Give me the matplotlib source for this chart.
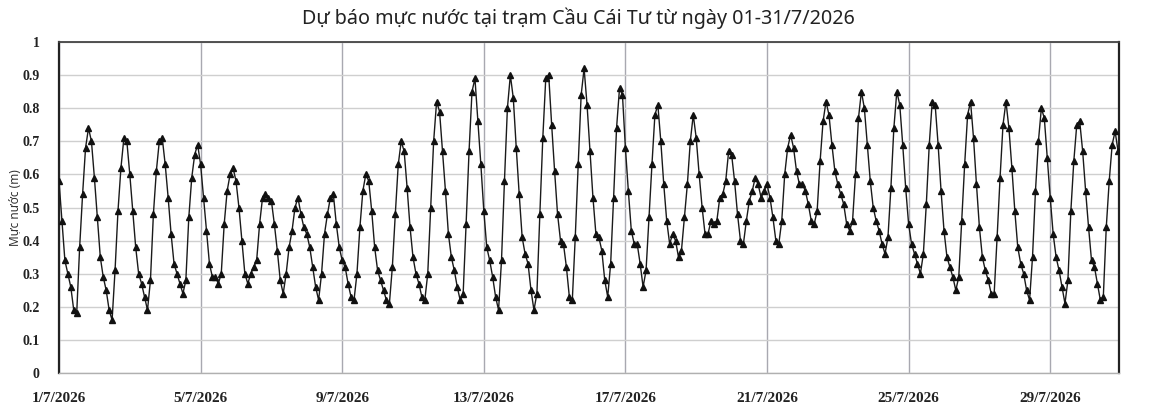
import numpy as np
import pandas as pd
import matplotlib
matplotlib.use("Agg")
import matplotlib.pyplot as plt
import matplotlib.dates as mdates
from matplotlib.ticker import FuncFormatter

# --- data: water level every 2 hours, 1/7/2026 00:00 onward (m) ---
start = "2026-07-01 00:00"
step = "2h"

level_days_1_10 = [
    0.58, 0.46, 0.34, 0.30, 0.26, 0.19, 0.18, 0.38, 0.54, 0.68, 0.74, 0.70,
    0.59, 0.47, 0.35, 0.29, 0.25, 0.19, 0.16, 0.31, 0.49, 0.62, 0.71, 0.70,
    0.60, 0.49, 0.38, 0.30, 0.27, 0.23, 0.19, 0.28, 0.48, 0.61, 0.70, 0.71,
    0.63, 0.53, 0.42, 0.33, 0.30, 0.27, 0.24, 0.28, 0.47, 0.59, 0.66, 0.69,
    0.63, 0.53, 0.43, 0.33, 0.29, 0.29, 0.27, 0.30, 0.45, 0.55, 0.60, 0.62,
    0.58, 0.50, 0.40, 0.30, 0.27, 0.30, 0.32, 0.34, 0.45, 0.53, 0.54, 0.53,
    0.52, 0.45, 0.37, 0.28, 0.24, 0.30, 0.38, 0.43, 0.50, 0.53, 0.48, 0.44,
    0.42, 0.38, 0.32, 0.26, 0.22, 0.30, 0.42, 0.48, 0.53, 0.54, 0.45, 0.38,
    0.34, 0.32, 0.27, 0.23, 0.22, 0.30, 0.44, 0.55, 0.60, 0.58, 0.49, 0.38,
    0.31, 0.28, 0.25, 0.22, 0.21, 0.32, 0.48, 0.63, 0.70, 0.67, 0.56, 0.44,
]
level_days_11_20 = [
    0.35, 0.30, 0.27, 0.23, 0.22, 0.30, 0.50, 0.70, 0.82, 0.79, 0.67, 0.55,
    0.42, 0.35, 0.31, 0.26, 0.22, 0.24, 0.45, 0.67, 0.85, 0.89, 0.76, 0.63,
    0.49, 0.38, 0.34, 0.29, 0.23, 0.19, 0.34, 0.58, 0.80, 0.90, 0.83, 0.68,
    0.54, 0.41, 0.36, 0.33, 0.25, 0.19, 0.24, 0.48, 0.71, 0.89, 0.90, 0.75,
    0.61, 0.48, 0.40, 0.39, 0.32, 0.23, 0.22, 0.41, 0.63, 0.84, 0.92, 0.81,
    0.67, 0.53, 0.42, 0.41, 0.37, 0.28, 0.23, 0.33, 0.53, 0.74, 0.86, 0.84,
    0.68, 0.55, 0.43, 0.39, 0.39, 0.33, 0.26, 0.31, 0.47, 0.63, 0.78, 0.81,
    0.70, 0.57, 0.46, 0.39, 0.42, 0.40, 0.35, 0.37, 0.47, 0.57, 0.70, 0.78,
    0.71, 0.60, 0.50, 0.42, 0.42, 0.46, 0.45, 0.46, 0.53, 0.54, 0.58, 0.67,
    0.66, 0.58, 0.48, 0.40, 0.39, 0.46, 0.52, 0.55, 0.59, 0.57, 0.53, 0.55,
]
level_days_21_30 = [
    0.57, 0.53, 0.47, 0.40, 0.39, 0.46, 0.60, 0.68, 0.72, 0.68, 0.61, 0.57,
    0.57, 0.55, 0.51, 0.46, 0.45, 0.49, 0.64, 0.76, 0.82, 0.78, 0.69, 0.61,
    0.57, 0.54, 0.51, 0.45, 0.43, 0.46, 0.60, 0.77, 0.85, 0.80, 0.69, 0.58,
    0.50, 0.46, 0.43, 0.39, 0.36, 0.41, 0.56, 0.74, 0.85, 0.81, 0.69, 0.56,
    0.45, 0.39, 0.36, 0.33, 0.30, 0.36, 0.51, 0.69, 0.82, 0.81, 0.69, 0.55,
    0.43, 0.35, 0.32, 0.29, 0.25, 0.29, 0.46, 0.63, 0.78, 0.82, 0.71, 0.57,
    0.44, 0.35, 0.31, 0.28, 0.24, 0.24, 0.41, 0.59, 0.75, 0.82, 0.74, 0.62,
    0.49, 0.38, 0.33, 0.30, 0.25, 0.22, 0.35, 0.55, 0.70, 0.80, 0.77, 0.65,
    0.53, 0.42, 0.35, 0.31, 0.26, 0.21, 0.28, 0.49, 0.64, 0.75, 0.76, 0.67,
    0.55, 0.44, 0.34, 0.32, 0.27, 0.22, 0.23, 0.44, 0.58, 0.69, 0.73, 0.67,
]
levels = level_days_1_10 + level_days_11_20 + level_days_21_30

tick_dates = ["2026-07-01", "2026-07-05", "2026-07-09", "2026-07-13",
              "2026-07-17", "2026-07-21", "2026-07-25", "2026-07-29"]
y_ticks = [0, 0.1, 0.2, 0.3, 0.4, 0.5, 0.6, 0.7, 0.8, 0.9, 1.0]
y_tick_labels = ["0", "0.1", "0.2", "0.3", "0.4", "0.5", "0.6", "0.7", "0.8", "0.9", "1"]

title = "Dự báo mực nước tại trạm Cầu Cái Tư từ ngày 01-31/7/2026"
y_label = "Mực nước (m)"

times = pd.date_range(start, periods=len(levels), freq=step)

fig = plt.figure(figsize=(11.5, 4.07), dpi=100)
ax = fig.add_axes([0.0513, 0.0835, 0.9217, 0.8133])

ax.plot(times, levels, color="#1a1a1a", lw=1.0, marker="^", ms=3.8,
        markerfacecolor="#111111", markeredgecolor="#111111", zorder=3)

x0 = pd.Timestamp("2026-07-01 00:00")
ax.set_xlim(x0, x0 + pd.Timedelta(hours=718.6))
ax.set_ylim(0, 1)

ax.set_xticks(pd.to_datetime(tick_dates))
ax.xaxis.set_major_formatter(FuncFormatter(
    lambda v, pos: f"{mdates.num2date(v).day}/{mdates.num2date(v).month}/{mdates.num2date(v).year}"))
ax.set_yticks(y_ticks)
ax.set_yticklabels(y_tick_labels)

for lab in ax.get_xticklabels():
    lab.set_fontfamily("Liberation Serif")
    lab.set_fontweight("bold")
    lab.set_fontsize(11)
for lab in ax.get_yticklabels():
    lab.set_fontfamily("Liberation Serif")
    lab.set_fontweight("bold")
    lab.set_fontsize(10)
ax.tick_params(axis="x", length=0, pad=14, colors="#222222")
ax.tick_params(axis="y", length=0, pad=14, colors="#222222")

ax.grid(axis="y", color="#cfcfcf", lw=1.0)
ax.grid(axis="x", color="#a8a8b0", lw=1.0)
ax.set_axisbelow(True)

ax.spines["left"].set_color("#222222")
ax.spines["left"].set_linewidth(1.6)
ax.spines["right"].set_color("#222222")
ax.spines["right"].set_linewidth(1.6)
ax.spines["top"].set_color("#444444")
ax.spines["top"].set_linewidth(1.3)
ax.spines["bottom"].set_color("#b0b0b0")
ax.spines["bottom"].set_linewidth(1.0)

ax.set_ylabel(y_label, fontfamily="Noto Sans", fontsize=8.5, color="#333333")
ax.yaxis.set_label_coords(-0.035, 0.5)
fig.text(0.503, 0.955, title, ha="center", va="center",
         fontfamily="Noto Sans", fontsize=14.2, color="#222222")

fig.savefig("out.png", dpi=100)
